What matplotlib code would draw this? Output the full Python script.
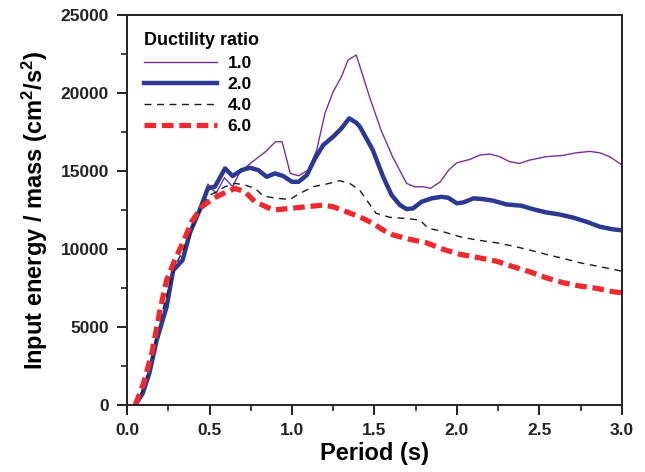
import matplotlib
matplotlib.use("Agg")
import matplotlib.pyplot as plt
from matplotlib.ticker import MultipleLocator

plt.rcParams['font.family'] = ['Liberation Sans', 'DejaVu Sans']
plt.rcParams['font.weight'] = 'bold'
plt.rcParams['mathtext.fontset'] = 'custom'
plt.rcParams['mathtext.rm'] = 'Liberation Sans:bold'
plt.rcParams['mathtext.bf'] = 'Liberation Sans:bold'
plt.rcParams['mathtext.it'] = 'Liberation Sans:bold'

# ---- data ----
labels = ["1.0", "2.0", "4.0", "6.0"]

x_mu1 = [0.05, 0.095, 0.135, 0.18, 0.22, 0.24, 0.28, 0.30, 0.34, 0.38, 0.44, 0.49, 0.54, 0.59, 0.64,
         0.68, 0.735, 0.786, 0.84, 0.90, 0.94, 0.99, 1.04, 1.10, 1.15, 1.20, 1.25, 1.30, 1.34, 1.39,
         1.47, 1.54, 1.61, 1.695, 1.745, 1.80, 1.84, 1.90, 1.95, 2.00, 2.08, 2.14, 2.20, 2.26, 2.32,
         2.38, 2.44, 2.54, 2.64, 2.725, 2.806, 2.867, 2.927, 3.0]
y_mu1 = [0, 750, 2050, 4300, 5600, 6300, 8650, 8860, 9300, 11000, 12500, 14170, 13570, 14570, 14000,
         14850, 15380, 15810, 16240, 16880, 16880, 14850, 14700, 15060, 16350, 18700, 20090, 21050, 22120, 22440,
         19770, 17630, 15920, 14210, 13990, 13990, 13890, 14310, 15060, 15530, 15750, 16030, 16090, 15920, 15600,
         15490, 15700, 15920, 16000, 16170, 16260, 16170, 15920, 15400]

x_mu2 = [0.05, 0.095, 0.135, 0.18, 0.24, 0.28, 0.30, 0.337, 0.38, 0.44, 0.49, 0.533, 0.594, 0.64,
         0.695, 0.745, 0.796, 0.847, 0.897, 0.947, 1.0, 1.04, 1.09, 1.14, 1.19, 1.25, 1.30, 1.347, 1.39,
         1.412, 1.49, 1.553, 1.604, 1.655, 1.695, 1.735, 1.786, 1.847, 1.907, 1.947, 2.0, 2.04, 2.10, 2.16,
         2.22, 2.30, 2.39, 2.46, 2.54, 2.62, 2.70, 2.786, 2.867, 2.947, 3.0]
y_mu2 = [0, 750, 2030, 4170, 6300, 8650, 8860, 9300, 11000, 12500, 13890, 14000, 15170, 14680,
         15060, 15210, 15060, 14630, 14850, 14680, 14310, 14310, 14740, 15810, 16670, 17200, 17740, 18380, 18100,
         17840, 16350, 14630, 13460, 12820, 12560, 12610, 13030, 13250, 13350, 13290, 12930, 12990, 13250, 13200,
         13100, 12860, 12780, 12560, 12350, 12220, 12030, 11750, 11430, 11260, 11200]

x_mu4 = [0.05, 0.10, 0.15, 0.20, 0.24, 0.29, 0.34, 0.39, 0.45, 0.50, 0.543, 0.594, 0.655, 0.715,
         0.776, 0.826, 0.907, 0.988, 1.048, 1.129, 1.21, 1.29, 1.35, 1.41, 1.46, 1.51, 1.594, 1.675,
         1.776, 1.826, 1.897, 2.018, 2.12, 2.24, 2.34, 2.44, 2.54, 2.644, 2.745, 2.847, 2.947, 3.0]
y_mu4 = [0, 1100, 2900, 5400, 7000, 8900, 9900, 11300, 12600, 13450, 13670, 14000, 14210, 14100,
         13890, 13400, 13250, 13180, 13570, 14000, 14170, 14380, 14210, 13780, 13030, 12290, 12030, 11970,
         11860, 11330, 11170, 10790, 10580, 10400, 10190, 9940, 9660, 9400, 9120, 8910, 8700, 8580]

x_mu6 = [0.05, 0.10, 0.15, 0.20, 0.24, 0.29, 0.341, 0.392, 0.453, 0.523, 0.584, 0.655, 0.715, 0.776,
         0.887, 0.988, 1.089, 1.19, 1.25, 1.33, 1.41, 1.49, 1.553, 1.614, 1.715, 1.816, 1.917, 2.018,
         2.12, 2.24, 2.34, 2.44, 2.54, 2.644, 2.745, 2.847, 2.947, 3.0]
y_mu6 = [0, 1390, 3310, 6090, 8010, 9300, 10470, 11750, 12710, 13250, 13570, 13890, 13670, 13030,
         12500, 12610, 12710, 12820, 12710, 12390, 12070, 11650, 11220, 10900, 10620, 10400, 9980, 9660,
         9470, 9220, 8870, 8550, 8160, 7840, 7630, 7480, 7260, 7200]

xticks = [0.0, 0.5, 1.0, 1.5, 2.0, 2.5, 3.0]
yticks = [0, 5000, 10000, 15000, 20000, 25000]

# ---- plot ----
fig = plt.figure(figsize=(6.45, 4.72), dpi=100)
ax = fig.add_axes([0.197, 0.142, 0.767, 0.826])

ax.plot(x_mu1, y_mu1, color='#7a2e9e', lw=1.0, label=labels[0])
ax.plot(x_mu2, y_mu2, color='#2b3990', lw=3.2, label=labels[1])
ax.plot(x_mu4, y_mu4, color='#1a1a1a', lw=1.0, dashes=(5, 4), label=labels[2])
ax.plot(x_mu6, y_mu6, color='#ee2a2e', lw=3.8, dashes=(2.2, 1.1), label=labels[3])

ax.set_xlim(0, 3.0)
ax.set_ylim(0, 25000)
ax.set_xticks(xticks)
ax.set_xticklabels([f"{v:.1f}" for v in xticks])
ax.set_yticks(yticks)
ax.set_yticklabels([str(v) for v in yticks])
ax.xaxis.set_minor_locator(MultipleLocator(0.25))
ax.yaxis.set_minor_locator(MultipleLocator(2500))

for s in ax.spines.values():
    s.set_linewidth(1.4)
    s.set_color('#222222')
ax.tick_params(which='major', direction='out', length=7, width=1.4, labelsize=12.5, pad=6, colors='#222222')
ax.tick_params(which='minor', direction='out', length=4, width=1.2, colors='#222222')
for t in ax.get_xticklabels() + ax.get_yticklabels():
    t.set_fontweight('bold')

ax.set_xlabel('Period (s)', fontsize=17, fontweight='bold', labelpad=3)
ax.set_ylabel(r'Input energy / mass (cm$^2$/s$^2$)', fontsize=17, fontweight='bold', labelpad=8)

leg = ax.legend(title='Ductility ratio', loc='upper left', frameon=False,
                fontsize=12.5, title_fontproperties={'weight': 'bold', 'size': 13},
                handlelength=4.2, handletextpad=0.6, labelspacing=0.35,
                borderaxespad=0.6, bbox_to_anchor=(0.0, 1.0))
leg._legend_box.align = 'left'
for t in leg.get_texts():
    t.set_fontweight('bold')

fig.savefig('out.png', dpi=100)
